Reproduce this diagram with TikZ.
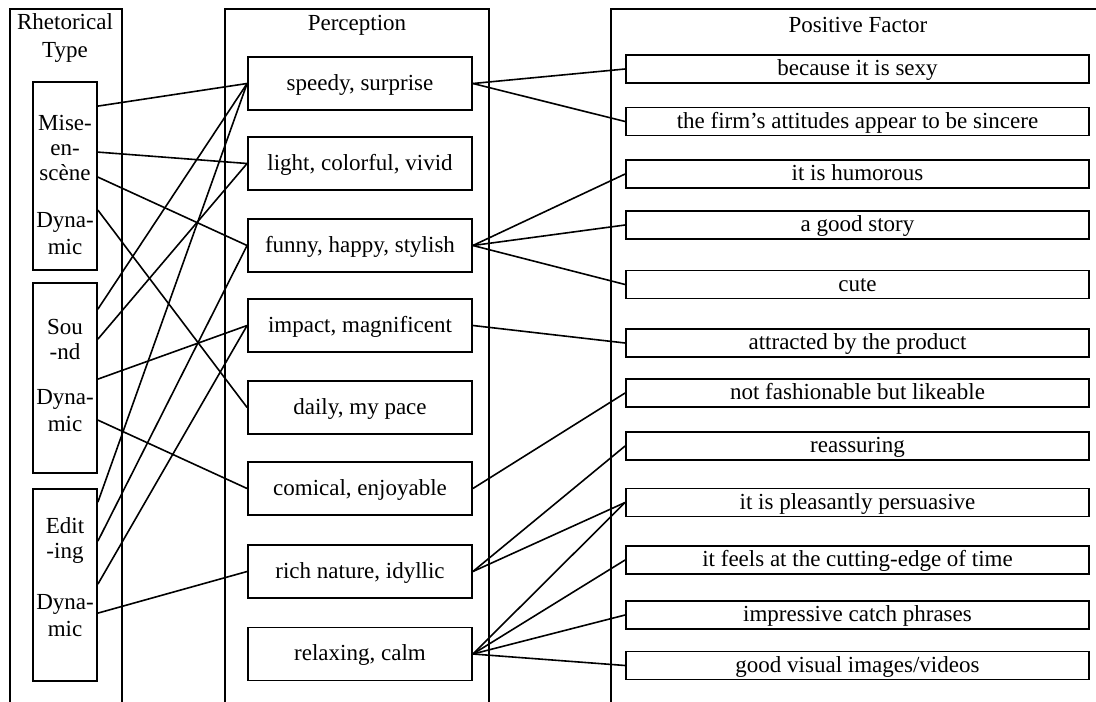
\documentclass[tikz,border=0pt]{standalone}
\usepackage{fontspec}
\setmainfont{Liberation Serif}
\begin{document}
\begin{tikzpicture}[x=1pt,y=-1pt,
  font=\fontsize{23}{25}\selectfont,
  col/.style={line width=1.8pt},
  box/.style={draw, line width=1.8pt, inner sep=0pt, text height=17pt, text depth=4pt},
  lbox/.style={box, minimum width=64pt},
  mbox/.style={box, minimum width=224pt, minimum height=53pt},
  rbox/.style={box, minimum width=463pt, minimum height=28pt},
  lbl/.style={align=center, inner sep=0pt},
  link/.style={line width=1.6pt}]
\useasboundingbox (0,0) rectangle (1096,702);

% column frames
\draw[col] (10,702) -- (10,9) -- (122,9) -- (122,702);
\draw[col] (225,702) -- (225,9) -- (489,9) -- (489,702);
\draw[col] (611,702) -- (611,9) -- (1096,9);

% headers
\node[lbl] (hL) at (65,37.5) {Rhetorical\\[3pt]Type};
\node[lbl] (hM) at (357,25) {Perception};
\node[lbl] (hR) at (858,25) {Positive Factor};

% left boxes
\node[lbox, minimum height=188pt] (L1) at (65,176) {};
\node[lbl] (L1a) at (65,148) {Mise-\\en-\\scène};
\node[lbl] (L1b) at (65,233.5) {Dyna-\\[2pt]mic};
\node[lbox, minimum height=190pt] (L2) at (65,378) {};
\node[lbl] (L2a) at (65,339) {Sou\\-nd};
\node[lbl] (L2b) at (65,410.5) {Dyna-\\[2pt]mic};
\node[lbox, minimum height=192pt] (L3) at (65,585) {};
\node[lbl] (L3a) at (65,540) {Edit\\-ing};
\node[lbl] (L3b) at (65,615.5) {Dyna-\\[2pt]mic};

% middle boxes
\node[mbox] (m1) at (360,83.5) {speedy, surprise};
\node[mbox] (m2) at (360,163.5) {light, colorful, vivid};
\node[mbox] (m3) at (360,245.5) {funny, happy, stylish};
\node[mbox] (m4) at (360,325.5) {impact, magnificent};
\node[mbox] (m5) at (360,407.5) {daily, my pace};
\node[mbox] (m6) at (360,488.5) {comical, enjoyable};
\node[mbox] (m7) at (360,571.5) {rich nature, idyllic};
\node[mbox] (m8) at (360,654) {relaxing, calm};

% right boxes
\node[rbox] (p1) at (857.5,69) {because it is sexy};
\node[rbox] (p2) at (857.5,121.5) {the firm’s attitudes appear to be sincere};
\node[rbox] (p3) at (857.5,174) {it is humorous};
\node[rbox] (p4) at (857.5,225) {a good story};
\node[rbox] (p5) at (857.5,284.5) {cute};
\node[rbox] (p6) at (857.5,343) {attracted by the product};
\node[rbox] (p7) at (857.5,393) {not fashionable but likeable};
\node[rbox] (p8) at (857.5,446) {reassuring};
\node[rbox] (p9) at (857.5,502.5) {it is pleasantly persuasive};
\node[rbox] (p10) at (857.5,560) {it feels at the cutting-edge of time};
\node[rbox] (p11) at (857.5,615) {impressive catch phrases};
\node[rbox] (p12) at (857.5,665.5) {good visual images/videos};

% left -> middle
\draw[link] ([yshift=-25pt]L1.north east) -- (m1.west);
\draw[link] ([yshift=-71pt]L1.north east) -- (m2.west);
\draw[link] ([yshift=-96pt]L1.north east) -- (m3.west);
\draw[link] ([yshift=-129pt]L1.north east) -- (m5.west);
\draw[link] ([yshift=-27pt]L2.north east) -- (m1.west);
\draw[link] ([yshift=-57pt]L2.north east) -- (m2.west);
\draw[link] ([yshift=-97pt]L2.north east) -- (m4.west);
\draw[link] ([yshift=-138pt]L2.north east) -- (m6.west);
\draw[link] ([yshift=-14pt]L3.north east) -- (m1.west);
\draw[link] ([yshift=-53pt]L3.north east) -- (m3.west);
\draw[link] ([yshift=-96pt]L3.north east) -- (m4.west);
\draw[link] ([yshift=-125pt]L3.north east) -- (m7.west);

% middle -> right
\draw[link] (m1.east) -- (p1.west);
\draw[link] (m1.east) -- (p2.west);
\draw[link] (m3.east) -- (p3.west);
\draw[link] (m3.east) -- (p4.west);
\draw[link] (m3.east) -- (p5.west);
\draw[link] (m4.east) -- (p6.west);
\draw[link] (m6.east) -- (p7.west);
\draw[link] (m7.east) -- (p8.west);
\draw[link] (m7.east) -- (p9.west);
\draw[link] (m8.east) -- (p9.west);
\draw[link] (m8.east) -- (p10.west);
\draw[link] (m8.east) -- (p11.west);
\draw[link] (m8.east) -- (p12.west);
\end{tikzpicture}
\end{document}
